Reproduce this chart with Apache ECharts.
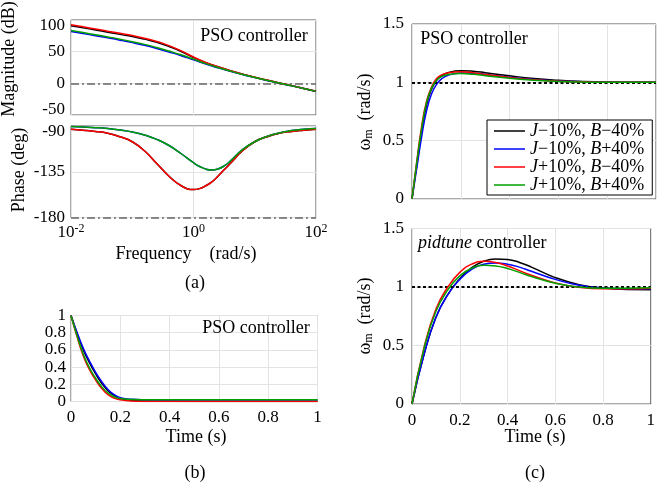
<!DOCTYPE html>
<html><head><meta charset="utf-8">
<script src="https://cdn.jsdelivr.net/npm/echarts@6/dist/echarts.min.js"></script>
<style>html,body{margin:0;padding:0;background:#fff}#c{width:658px;height:485px}</style>
</head><body><div id="c"></div>
<script>
// ---------- data ----------
const names = ['Jm10Bm40', 'Jm10Bp40', 'Jp10Bm40', 'Jp10Bp40'];
const legendLabels = ['{i|J}\u221210%, {i|B}\u221240%', '{i|J}\u221210%, {i|B}+40%', '{i|J}+10%, {i|B}\u221240%', '{i|J}+10%, {i|B}+40%'];
const colors = ['#000000', '#0000ff', '#ff0000', '#00a000'];

// (a) Bode magnitude: frequency (rad/s)
const freqs = [0.01, 0.0158, 0.0251, 0.0398, 0.0631, 0.1, 0.158, 0.251, 0.398, 0.631, 1, 1.585, 2.512, 3.981, 6.31, 10, 15.85, 25.12, 39.81, 63.1, 100];
const magBlack = [91.1, 87.7, 84.3, 80.7, 77.3, 74, 69.8, 64.7, 58.2, 50.3, 40.8, 32.7, 26.1, 20, 14.5, 9.5, 5, 0.6, -3.6, -8, -12.6];
const magBlue  = [82, 78.6, 75.2, 71.8, 68.2, 64.3, 60, 55, 49.5, 43.6, 37, 30.4, 24.5, 19, 13.9, 9, 4.5, 0.2, -3.9, -8.3, -12.9];
const magRed   = [92.6, 89.2, 85.8, 82.3, 78.9, 75.5, 71.3, 66.1, 59.6, 51.3, 41.5, 33, 26.2, 20.1, 14.6, 9.6, 5.1, 0.6, -3.6, -8, -12.6];
const magGreen = [83.5, 80.1, 76.7, 73.3, 69.7, 65.8, 61.5, 56.5, 51, 45, 38.2, 31.1, 25, 19.4, 14.1, 9.2, 4.7, 0.4, -3.8, -8.2, -12.7];
// (a) Bode phase
const phFreqs = [0.01, 0.0158, 0.0251, 0.0398, 0.0631, 0.1, 0.158, 0.251, 0.398, 0.631, 1, 1.259, 1.585, 1.995, 2.512, 3.162, 3.981, 6.31, 10, 15.85, 25.12, 39.81, 63.1, 100];
const phBlack = [-93.2, -94.1, -95.3, -97.2, -100.6, -105.5, -114.4, -126.9, -139.4, -148.8, -152.5, -151.6, -148.8, -144.9, -139.4, -133.1, -126.9, -114.4, -105.5, -100.6, -97.2, -95.3, -94.1, -93.2];
const phBlue  = [-90.5, -91, -91.6, -92.5, -93.9, -95.8, -98.8, -103.2, -109.2, -117.3, -126.1, -129.8, -132.4, -133.3, -132.3, -129.3, -124.6, -113.3, -105.5, -100.3, -96.8, -94.5, -93.2, -92.5];
const phRed   = [-93.2, -94.1, -95.3, -97.2, -100.6, -105.5, -114.4, -126.9, -139.4, -148.8, -152.5, -151.6, -148.8, -144.9, -139.4, -133.1, -126.9, -114.4, -105.5, -100.6, -97.2, -95.3, -94.1, -93.2];
const phGreen = [-90.5, -91, -91.6, -92.5, -93.9, -95.8, -98.8, -103.2, -109.2, -117.3, -126.1, -129.8, -132.4, -133.3, -132.3, -129.3, -124.6, -113.3, -105.5, -100.3, -96.8, -94.5, -93.2, -92.5];

// (b) time response
const tB = [0, 0.025, 0.05, 0.075, 0.1, 0.125, 0.15, 0.175, 0.2, 0.25, 0.3, 0.4, 0.6, 0.8, 1.0];
const bBlack = [1, 0.79, 0.6, 0.45, 0.32, 0.21, 0.125, 0.07, 0.035, 0.012, 0.005, 0.002, 0.001, 0.001, 0.001];
const bBlue  = [1, 0.8, 0.62, 0.47, 0.34, 0.23, 0.14, 0.08, 0.045, 0.025, 0.02, 0.018, 0.018, 0.018, 0.018];
const bRed   = [1, 0.75, 0.53, 0.37, 0.25, 0.15, 0.08, 0.04, 0.02, 0.005, 0.001, 0, 0, 0, 0];
const bGreen = [1, 0.76, 0.55, 0.39, 0.27, 0.17, 0.1, 0.055, 0.035, 0.022, 0.02, 0.019, 0.019, 0.019, 0.019];

// (c) PSO controller step response
const tS = [0, 0.02, 0.04, 0.06, 0.08, 0.1, 0.12, 0.15, 0.2, 0.25, 0.3, 0.4, 0.5, 0.6, 0.7, 0.8, 1.0];
const sBlack = [0, 0.3, 0.59, 0.81, 0.94, 1.015, 1.055, 1.085, 1.1, 1.095, 1.083, 1.056, 1.033, 1.018, 1.008, 1.003, 1.0];
const sBlue  = [0, 0.27, 0.54, 0.76, 0.9, 0.98, 1.028, 1.062, 1.08, 1.078, 1.068, 1.044, 1.024, 1.012, 1.005, 1.001, 1.0];
const sRed   = [0, 0.33, 0.63, 0.84, 0.96, 1.03, 1.062, 1.083, 1.09, 1.082, 1.068, 1.042, 1.022, 1.01, 1.004, 1.001, 1.0];
const sGreen = [0, 0.32, 0.61, 0.83, 0.95, 1.015, 1.048, 1.068, 1.075, 1.069, 1.057, 1.034, 1.017, 1.007, 1.002, 1.0, 1.0];

// (c) pidtune controller step response
const tP = [0, 0.05, 0.1, 0.15, 0.2, 0.25, 0.3, 0.35, 0.4, 0.45, 0.5, 0.6, 0.7, 0.8, 0.9, 1.0];
const pBlack = [0, 0.42, 0.74, 0.935, 1.07, 1.165, 1.22, 1.24, 1.235, 1.21, 1.17, 1.08, 1.02, 0.99, 0.978, 0.977];
const pBlue  = [0, 0.42, 0.74, 0.935, 1.065, 1.15, 1.195, 1.205, 1.195, 1.17, 1.135, 1.065, 1.015, 0.992, 0.985, 0.985];
const pRed   = [0, 0.48, 0.81, 1.0, 1.125, 1.195, 1.22, 1.21, 1.18, 1.14, 1.1, 1.035, 0.998, 0.985, 0.985, 0.99];
const pGreen = [0, 0.47, 0.79, 0.975, 1.095, 1.16, 1.185, 1.18, 1.158, 1.125, 1.09, 1.032, 1.0, 0.99, 0.99, 0.993];

// ---------- build ----------
const FONT = '"Liberation Serif", "DejaVu Serif", serif';
const AX = '#555';
const GRIDC = '#e3e3e3';
const zip = (xs, ys) => xs.map((x, i) => [x, ys[i]]);

const grids = [
  {left: 71, top: 20, width: 245, height: 95},
  {left: 71, top: 126, width: 245, height: 91.5},
  {left: 71, top: 315.5, width: 246.5, height: 86},
  {left: 412, top: 24, width: 244, height: 175},
  {left: 412, top: 228.5, width: 244, height: 175.5}
].map(g => Object.assign({show: true, borderColor: AX, borderWidth: 1, backgroundColor: '#fff'}, g));

const labelStyle = {color: '#000', fontFamily: FONT, fontSize: 17};
function logLabel(v) {
  const e = Math.round(Math.log10(v));
  return '{b|10}{s|' + e + '}';
}
const logRich = {b: {fontFamily: FONT, fontSize: 17, color: '#000', verticalAlign: 'bottom', lineHeight: 18},
                 s: {fontFamily: FONT, fontSize: 12, color: '#000', verticalAlign: 'bottom', lineHeight: 18, padding: [0, 0, 7, 0]}};

function logX(idx, showLabel) {
  return {type: 'log', logBase: 10, gridIndex: idx, min: 0.01, max: 100, interval: 2,
    axisLine: {show: false}, axisTick: {show: false},
    splitLine: {show: true, lineStyle: {color: GRIDC, width: 1}}, minorSplitLine: {show: false},
    axisLabel: Object.assign({show: showLabel, margin: 6, formatter: logLabel, rich: logRich}, labelStyle)};
}
function linX(idx, showLabel) {
  return {type: 'value', gridIndex: idx, min: 0, max: 1, interval: 0.2,
    axisLine: {show: false}, axisTick: {show: false},
    splitLine: {show: true, lineStyle: {color: GRIDC, width: 1}},
    axisLabel: Object.assign({show: showLabel, margin: 8}, labelStyle)};
}
function linY(idx, min, max, interval, margin, extra) {
  return {type: 'value', gridIndex: idx, min: min, max: max, interval: interval,
    axisLine: {show: false}, axisTick: {show: false},
    splitLine: {show: true, lineStyle: {color: GRIDC, width: 1}},
    axisLabel: Object.assign({margin: margin}, labelStyle, extra || {})};
}

const xAxis = [logX(0, false), logX(1, true), linX(2, true), linX(3, false), linX(4, true)];
const yAxis = [
  linY(0, -50, 100, 50, 6, {lineHeight: 11, verticalAlignMaxLabel: 'top', verticalAlignMinLabel: 'bottom'}),
  linY(1, -180, -90, 45, 6, {lineHeight: 11, verticalAlignMaxLabel: 'top'}),
  linY(2, 0, 1, 0.2, 5),
  linY(3, 0, 1.5, 0.5, 8),
  linY(4, 0, 1.5, 0.5, 8)
];

const panels = [
  {x: freqs, ys: [magBlack, magBlue, magRed, magGreen], mark: {y: 0, color: '#666', type: [8, 3, 2, 3], width: 1.5}},
  {x: phFreqs, ys: [phBlack, phBlue, phRed, phGreen], mark: {y: -180, color: '#666', type: [8, 3, 2, 3], width: 1.5}},
  {x: tB, ys: [bBlack, bBlue, bRed, bGreen]},
  {x: tS, ys: [sBlack, sBlue, sRed, sGreen], mark: {y: 1, color: '#000', type: [3, 2.5], width: 2}},
  {x: tP, ys: [pBlack, pBlue, pRed, pGreen], mark: {y: 1, color: '#000', type: [3, 2.5], width: 2}}
];

const series = [];
panels.forEach((p, gi) => {
  p.ys.forEach((ys, si) => {
    series.push({type: 'line', name: names[si], xAxisIndex: gi, yAxisIndex: gi,
      data: zip(p.x, ys), showSymbol: false, smooth: true,
      lineStyle: {color: colors[si], width: 1.5}, itemStyle: {color: colors[si]},
      silent: true, z: 3 + si});
  });
  if (p.mark) {
    series.push({type: 'line', name: 'ref' + gi, xAxisIndex: gi, yAxisIndex: gi, data: [], silent: true, z: 10,
      markLine: {silent: true, symbol: 'none', label: {show: false}, animation: false,
        lineStyle: {color: p.mark.color, type: p.mark.type, width: p.mark.width},
        data: [{yAxis: p.mark.y}]}});
  }
});

function txt(x, y, text, opts) {
  opts = opts || {};
  return {type: 'text', x: x, y: y, rotation: opts.rot || 0, z: 100,
    style: {text: text, font: (opts.size || 18) + 'px ' + FONT, fill: '#000',
      textAlign: opts.align || 'center', textVerticalAlign: 'middle', align: opts.align || 'center', verticalAlign: 'middle',
      rich: opts.rich}};
}
const wRich = {sub: {font: '12px ' + FONT, fill: '#000', padding: [8, 0, 0, 0]}, n: {font: '18px ' + FONT, fill: '#000'}};
const graphic = [
  txt(254, 36, 'PSO controller'),
  txt(9, 59, 'Magnitude (dB)', {rot: Math.PI / 2}),
  txt(19, 170, 'Phase (deg)', {rot: Math.PI / 2}),
  txt(186, 254, 'Frequency\u2003(rad/s)'),
  txt(195, 283, '(a)'),
  txt(256, 328, 'PSO controller'),
  txt(196, 437, 'Time (s)'),
  txt(195, 473, '(b)'),
  txt(474, 39, 'PSO controller'),
  txt(365, 112, '{n|\u03c9}{sub|m}{n|  (rad/s)}', {rot: Math.PI / 2, rich: wRich}),
  txt(418, 243, '{i|pidtune} controller', {align: 'left', rich: {i: {font: 'italic 18px ' + FONT, fill: '#000'}}}),
  txt(365, 316, '{n|\u03c9}{sub|m}{n|  (rad/s)}', {rot: Math.PI / 2, rich: wRich}),
  txt(535, 437, 'Time (s)'),
  txt(535, 473, '(c)')
];

const legendRich = {i: {fontFamily: FONT, fontStyle: 'italic', fontSize: 18, color: '#000', lineHeight: 17.5}};
const option = {
  animation: false,
  backgroundColor: '#fff',
  grid: grids,
  xAxis: xAxis,
  yAxis: yAxis,
  series: series,
  graphic: graphic,
  legend: {
    data: names, orient: 'vertical', left: 487, top: 120, itemGap: 0,
    icon: 'rect', itemWidth: 31, itemHeight: 1.5, selectedMode: false,
    padding: [2, 8, 1, 7], borderColor: '#000', borderWidth: 1, backgroundColor: '#fff',
    formatter: n => legendLabels[names.indexOf(n)],
    textStyle: {fontFamily: FONT, fontSize: 18, color: '#000', lineHeight: 17.5, rich: legendRich}
  }
};
const chart = echarts.init(document.getElementById('c'), null, {renderer: 'canvas'});
chart.setOption(option);
</script></body></html>
